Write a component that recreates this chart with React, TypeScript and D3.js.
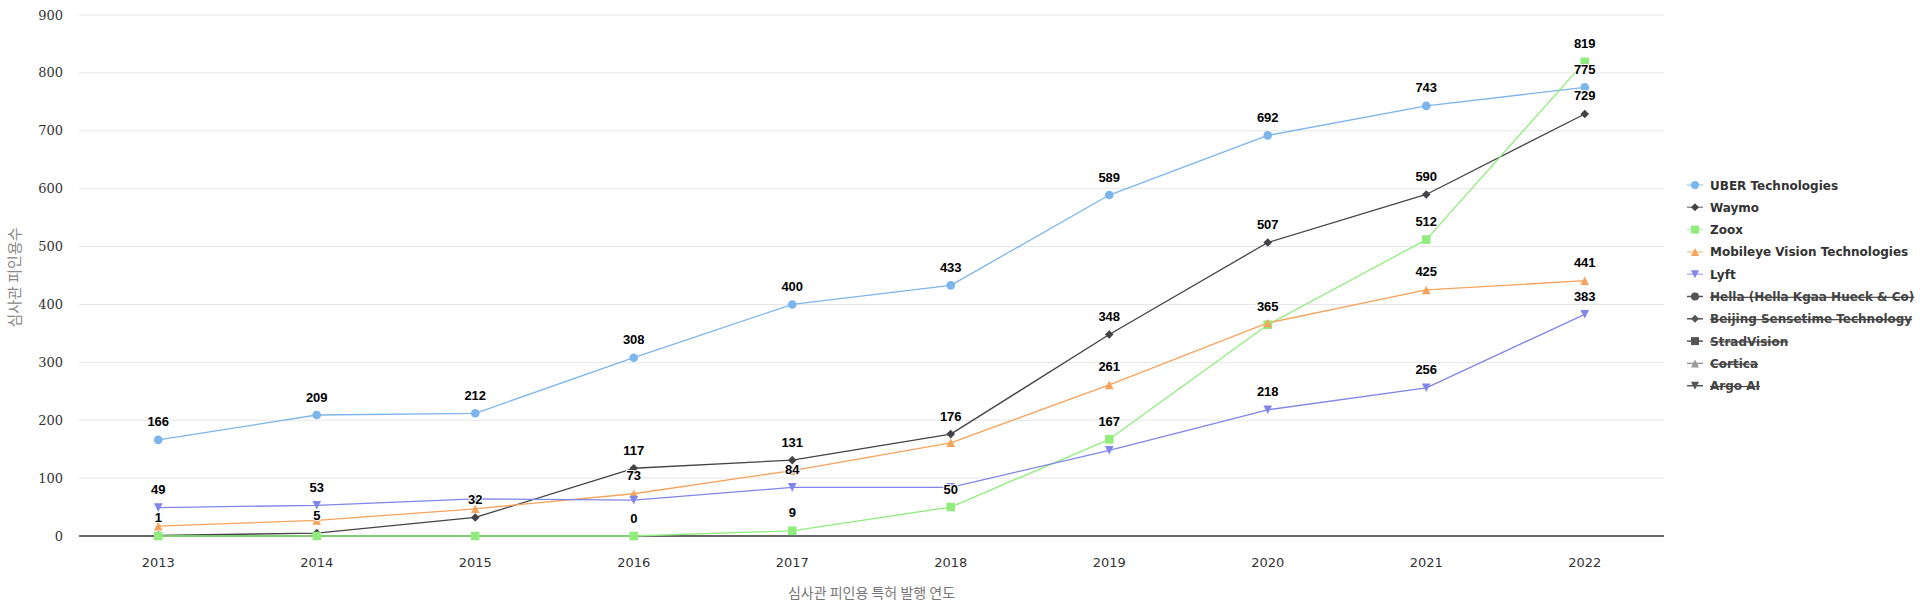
import React from "react";
import * as d3 from "d3";

const years = ["2013", "2014", "2015", "2016", "2017", "2018", "2019", "2020", "2021", "2022"];
const uberValues = [166, 209, 212, 308, 400, 433, 589, 692, 743, 775];
const waymoValues = [1, 5, 32, 117, 131, 176, 348, 507, 590, 729];
const zooxValues = [0, 0, 0, 0, 9, 50, 167, 365, 512, 819];
const mobileyeValues = [17, 27, 47, 73, 113, 161, 261, 368, 425, 441];
const lyftValues = [49, 53, 64, 62, 84, 84, 148, 218, 256, 383];
const yTicks = [0, 100, 200, 300, 400, 500, 600, 700, 800, 900];

const seriesNames = ["UBER Technologies", "Waymo", "Zoox", "Mobileye Vision Technologies", "Lyft"];
const seriesColors = ["#7cb5ec", "#434348", "#90ed7d", "#f7a35c", "#8085e9"];
const seriesSymbols = ["circle", "diamond", "square", "triangle", "triangle-down"];
const seriesValues = [uberValues, waymoValues, zooxValues, mobileyeValues, lyftValues];

const hiddenNames = ["Hella (Hella Kgaa Hueck & Co)", "Beijing Sensetime Technology", "StradVision", "Cortica", "Argo AI"];
const hiddenSymbols = ["circle", "diamond", "square", "triangle", "triangle-down"];
const hiddenColors = ["#555555", "#555555", "#555555", "#999999", "#555555"];

const yTitle = "심사관 피인용수";
const xTitle = "심사관 피인용 특허 발행 연도";

function markerPath(kind: string, r: number): string {
  switch (kind) {
    case "circle":
      return d3.symbol(d3.symbolCircle, Math.PI * r * r)() || "";
    case "diamond":
      return `M0,${-r}L${r},0L0,${r}L${-r},0Z`;
    case "square":
      return `M${-r},${-r}L${r},${-r}L${r},${r}L${-r},${r}Z`;
    case "triangle":
      return `M0,${-r}L${r},${r}L${-r},${r}Z`;
    case "triangle-down":
      return `M${-r},${-r}L${r},${-r}L0,${r}Z`;
  }
  return "";
}

export default function App() {
  const W = 1920;
  const H = 604;
  const left = 79;
  const right = 1664;
  const top = 15;
  const bottom = 536;

  const x = d3.scalePoint<string>().domain(years).range([left, right]).padding(0.5);
  const y = d3.scaleLinear().domain([0, 900]).range([bottom, top]);

  const line = d3
    .line<number>()
    .x((_, i) => x(years[i]) as number)
    .y((d) => y(d));

  // data labels with overlap hiding (earlier series win)
  type Lab = { x: number; y: number; text: string; box: [number, number, number, number] };
  const shown: Lab[] = [];
  seriesValues.forEach((vals) => {
    vals.forEach((v, i) => {
      const px = x(years[i]) as number;
      const py = y(v);
      const text = String(v);
      const w = text.length * 7.3 + 8;
      const h = 22;
      const cy = py - 18;
      const box: [number, number, number, number] = [px - w / 2, cy - h / 2, px + w / 2, cy + h / 2];
      const overlap = shown.some(
        (s) => !(box[2] <= s.box[0] || box[0] >= s.box[2] || box[3] <= s.box[1] || box[1] >= s.box[3])
      );
      if (!overlap) shown.push({ x: px, y: cy, text, box });
    });
  });

  const legendX = 1695;
  const legendY0 = 185;
  const legendStep = 22.3;

  return (
    <svg
      width={W}
      height={H}
      style={{ position: "absolute", left: 0, top: 0, display: "block", background: "#ffffff" }}
    >
      <rect x={0} y={0} width={W} height={H} fill="#ffffff" />
      {/* grid */}
      {yTicks.map((t) =>
        t === 0 ? null : (
          <line key={"g" + t} x1={left} x2={right} y1={y(t)} y2={y(t)} stroke="#e6e6e6" strokeWidth={1} />
        )
      )}
      {/* y tick labels */}
      {yTicks.map((t) => (
        <text
          key={"yt" + t}
          x={63}
          y={y(t) + 4.5}
          textAnchor="end"
          fontFamily="'DejaVu Serif', serif"
          fontSize={13}
          fill="#333333"
        >
          {t}
        </text>
      ))}
      {/* x axis line */}
      <line x1={left} x2={right} y1={bottom} y2={bottom} stroke="#333333" strokeWidth={1.5} />
      {/* x tick labels */}
      {years.map((yr) => (
        <text
          key={"xt" + yr}
          x={x(yr) as number}
          y={567}
          textAnchor="middle"
          fontFamily="'DejaVu Sans', sans-serif"
          fontSize={13}
          fill="#333333"
        >
          {yr}
        </text>
      ))}
      {/* axis titles */}
      <text
        transform={`translate(20,${(top + bottom) / 2 + 2}) rotate(-90)`}
        textAnchor="middle"
        fontFamily="'Noto Sans CJK KR', sans-serif"
        fontSize={15}
        fill="#888888"
      >
        {yTitle}
      </text>
      <text
        x={(left + right) / 2}
        y={598}
        textAnchor="middle"
        fontFamily="'Noto Sans CJK KR', sans-serif"
        fontSize={14}
        fill="#777777"
      >
        {xTitle}
      </text>
      {/* series lines */}
      {seriesValues.map((vals, si) => (
        <path
          key={"l" + si}
          d={line(vals) || ""}
          fill="none"
          stroke={seriesColors[si]}
          strokeWidth={1.3}
          strokeLinejoin="round"
        />
      ))}
      {/* markers */}
      {seriesValues.map((vals, si) =>
        vals.map((v, i) => (
          <path
            key={"m" + si + "-" + i}
            d={markerPath(seriesSymbols[si], 4.3)}
            transform={`translate(${x(years[i])},${y(v)})`}
            fill={seriesColors[si]}
          />
        ))
      )}
      {/* data labels */}
      {shown.map((l, i) => (
        <text
          key={"dl" + i}
          x={l.x}
          y={l.y + 4.5}
          textAnchor="middle"
          fontFamily="'Liberation Sans', Arial, sans-serif"
          fontWeight="bold"
          fontSize={13}
          fill="#000000"
          stroke="#ffffff"
          strokeWidth={2}
          paintOrder="stroke"
        >
          {l.text}
        </text>
      ))}
      {/* legend */}
      {seriesNames.map((n, i) => {
        const ly = legendY0 + i * legendStep;
        return (
          <g key={"lg" + i}>
            <line x1={legendX - 8} x2={legendX + 8} y1={ly} y2={ly} stroke={seriesColors[i]} strokeWidth={1.5} opacity={0.6} />
            <path d={markerPath(seriesSymbols[i], 4)} transform={`translate(${legendX},${ly})`} fill={seriesColors[i]} />
            <text x={1710} y={ly + 4.5} fontFamily="'DejaVu Sans', sans-serif" fontWeight="bold" fontSize={12} fill="#333333">
              {n}
            </text>
          </g>
        );
      })}
      {hiddenNames.map((n, j) => {
        const ly = legendY0 + (j + seriesNames.length) * legendStep;
        return (
          <g key={"hg" + j}>
            <line x1={legendX - 8} x2={legendX + 8} y1={ly} y2={ly} stroke={hiddenColors[j]} strokeWidth={1.5} />
            <path d={markerPath(hiddenSymbols[j], 4)} transform={`translate(${legendX},${ly})`} fill={hiddenColors[j]} />
            <text
              x={1710}
              y={ly + 4.5}
              fontFamily="'DejaVu Sans', sans-serif"
              fontWeight="bold"
              fontSize={12}
              fill="#444444"
              textDecoration="line-through"
            >
              {n}
            </text>
          </g>
        );
      })}
    </svg>
  );
}
